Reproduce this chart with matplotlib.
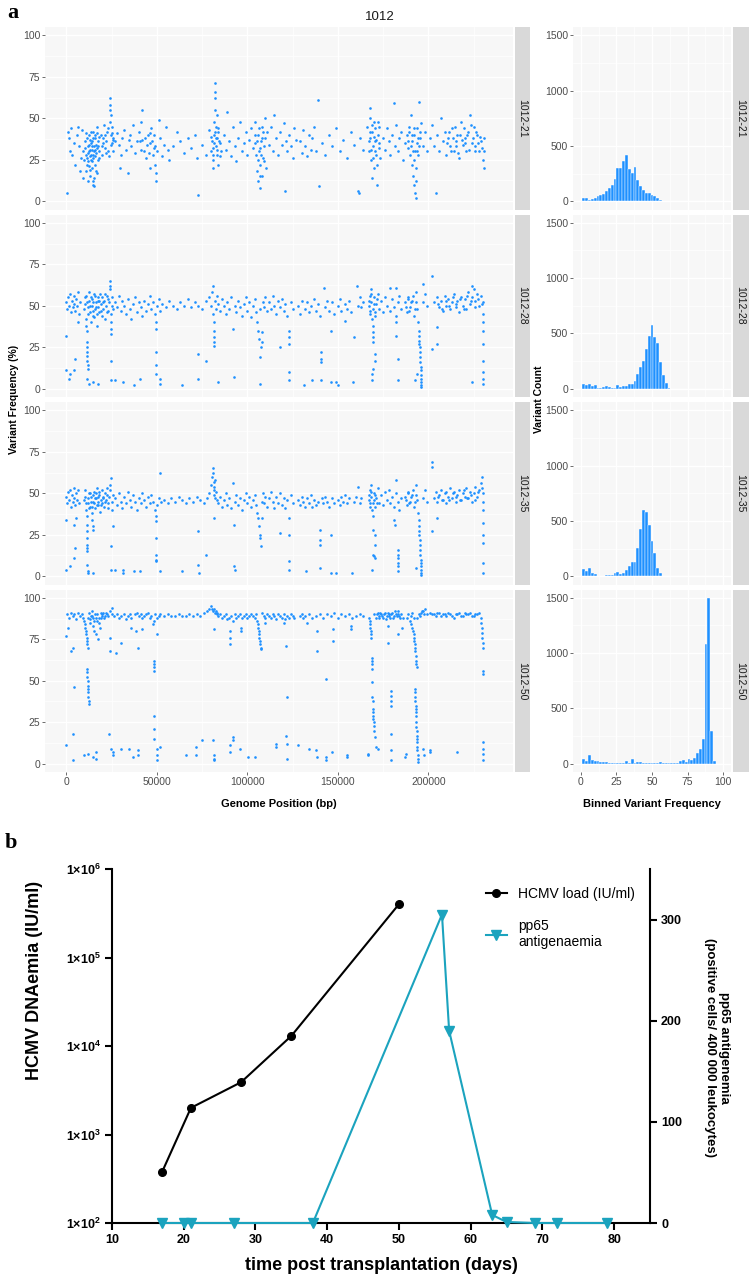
import numpy as np
import matplotlib
matplotlib.use('Agg')
import matplotlib.pyplot as plt
from matplotlib.ticker import NullLocator, FixedLocator
from matplotlib.lines import Line2D

# ---- panel a data: (genome position in kb, variant frequency %)
pts_21 = [(0.5,5),(1,42),(1.5,38),(2,30),(2.5,44),(3,28),(4,35),(5,22),(6,40),(6.5,45),(7,33),(7.5,18),(8,26),(8.5,43),(9,14),(9.5,30),
    (10,25),(10.5,32),(11,18),(11,28),(11.5,38),(12,12),(12,24),(12.5,30),(12.5,40),(13,15),(13,27),(13.5,35),(14,20),(14,31),(14.5,42),
    (15,10),(15,26),(15.5,33),(16,22),(16,38),(16.5,29),(17,45),(17,17),(17.5,36),(18,30),(18,26),(14.5,12),(15.5,9),(13.5,28),(12.8,34),
    (11.8,33),(12.2,29),(13.2,31),(14.2,36),(15.2,30),(16.2,34),(13.8,25),(14.8,28),(15.8,40),(16.8,32),
    (10.2,36),(10.8,41),(11.3,22),(11.6,26),(12.4,21),(12.9,37),(13.3,19),(13.7,42),(14.1,24),(14.4,33),(14.9,38),(15.3,14),(15.7,27),
    (16.1,31),(16.4,18),(16.9,41),(17.3,25),(17.8,33),(18.3,39),
    (19,40),(19.5,33),(20,28),(20.5,38),(21,46),(21.5,32),(22,36),(22.5,42),(23,30),(23.5,27),(24,48),(24,55),(24.2,62),(24.3,58),(24.5,40),
    (24.8,52),(25,35),(25.5,45),(26,30),(26,38),(20.2,35),(21.2,40),(22.2,29),(23.2,44),(24.6,34),(25.2,41),(25.8,37),
    (27,36),(28,41),(29,34),(29.5,20),(30,28),(31,38),(32,43),(33,31),(34,17),(34.5,37),(35,40),(36,33),(37,46),(38,29),(39,36),(40,42),
    (41,48),(42,55),(42,37),(43,30),(44,26),(45,40),(46,35),(46.5,20),(47,44),(48,28),(48.5,32),(49,22),(49.5,12),(49.8,17),(50,30),
    (51,49),(52,38),(53,27),(54,34),(55,45),(56,31),(57,25),
    (40.5,36),(41.5,31),(43.5,38),(44.5,34),(45.5,29),(46.2,41),(47.5,36),(48.2,40),(49.2,33),
    (59,33),(61,42),(63,36),(65,29),(67,38),(69,32),(71,40),(72,26),(73,4),(75,34),(77,28),
    (79,43),(80,30),(80.5,36),(81,20),(81,25),(81.5,40),(81.5,48),(82,55),(82,62),(82.2,66),(82.3,71),(82.5,33),(82.8,45),(83,28),(83,52),
    (83.5,38),(84,22),(84,42),(85,35),(85.5,30),
    (80.2,39),(80.8,28),(81.2,32),(81.8,35),(82.1,42),(82.6,38),(83.2,31),(83.7,44),(84.3,36),(84.7,27),
    (87,40),(88,31),(89,54),(90,36),(91,27),(92,45),(93,33),(94,24),(95,38),(96,48),(97,30),(98,35),(99,42),(100,28),(101,37),(102,44),(103,32),
    (104,35),(104.5,48),(105,28),(105.5,18),(106,40),(106,12),(106.5,30),(107,22),(107,8),(107.5,36),(108,15),(108,45),(108.5,26),(109,33),
    (109.5,50),(110,38),(110.5,20),(111,42),
    (104.2,40),(105.2,36),(105.8,25),(106.3,44),(106.8,32),(107.2,15),(107.8,28),(108.3,38),(108.8,42),(109.3,24),
    (112,34),(113,45),(114,30),(115,52),(116,38),(117,28),(118,42),(119,34),(120,47),(121,6),(121.5,36),(122,30),(123,40),(124,33),(125,26),
    (126,44),(127,37),
    (129,36),(130,29),(131,43),(132,33),(133,27),(134,40),(135,31),(136,38),(137,45),(138,30),(139,61),(139.5,9),(141,35),(143,28),(145,40),
    (147,33),(149,44),(151,30),(153,37),(155,26),(157,42),(159,34),(161,6),(161.5,5),(162,38),(164,31),
    (166,45),(167,30),(167.5,50),(168,56),(168,38),(168.5,25),(169,42),(169,14),(169.5,33),(170,20),(170,48),(170.5,36),(171,28),(171.5,10),
    (172,40),(172.5,32),(173,45),(173.5,26),
    (167.2,36),(167.8,42),(168.3,31),(168.8,46),(169.3,26),(169.8,39),(170.3,44),(170.8,30),(171.2,37),(171.8,22),(172.2,48),(172.8,35),
    (175,38),(176,31),(177,44),(178,36),(179,28),(180,40),(181,59),(181.5,33),(182,46),(183,30),(184,38),(185,42),(186,25),(187,35),
    (188,40),(189,32),(189.5,45),(190,28),(190.5,52),(191,36),(191,22),(191.5,15),(192,40),(192,10),(192.5,30),(192.5,5),(193,2),(193,20),
    (193.5,35),(194,44),(194.5,28),(195,60),(195.5,38),(196,47),(197,33),(198,42),(199,30),
    (188.5,36),(189.2,42),(190.2,33),(190.8,40),(191.3,30),(191.8,44),(192.3,25),(193.2,12),(193.8,30),(194.2,38),(194.8,33),(195.2,42),
    (201,38),(202,46),(203,33),(204,5),(205,40),(206,30),(207,50),(208,36),(209,42),(210,28),(211,38),(212,33),(213,44),(214,30),(215,36),
    (216,40),(217,26),(218,48),(219,34),(220,38),(221,30),(222,42),(223,52),(224,35),(225,45),(226,33),(227,40),(228,30),(229,36),(230,25),
    (230.5,20),(231,38),(231,30),
    (210.5,35),(211.5,42),(212.5,30),(213.5,38),(214.5,45),(215.5,33),(216.5,29),(217.5,40),(218.5,37),(219.5,44),(220.5,35),(221.5,40),
    (222.5,31),(223.5,46),(224.5,38),(225.5,30),(226.5,42),(227.5,35),(228.5,39),(229.5,32)]

pts_28 = [(0,52),(0.5,48),(1,55),(1.5,50),(2,57),(2.5,46),(3,53),(3.5,49),(4,56),(4.5,51),(5,47),(5.5,54),(6,50),(6.5,58),(7,45),(7.5,52),
    (0,32),(0,11),(2,9),(4.5,11),(4.8,18),(1.7,6),(6.5,40),
    (10,48),(10.5,55),(10.8,42),(11,38),(11.2,35),(11.4,52),(11.5,28),(11.5,25),(11.6,22),(11.6,20),(11.7,17),(11.8,14),(11.8,12),(11.2,6),
    (12.8,3),(14.6,4),(17.4,3),(12,45),(12.5,58),(13,50),(13.5,40),(14,54),(14.5,47),(15,52),(15.5,43),(16,56),(16.5,49),(17,38),(17.5,53),
    (18,46),(18.5,57),(19,51),(19.5,44),(20,55),(20.5,48),(21,53),(21.5,42),(22,50),(22.5,56),(23,47),(23.5,52),
    (10.2,51),(11,56),(12.2,49),(12.8,53),(13.3,46),(13.8,55),(14.3,50),(14.8,44),(15.3,57),(15.8,48),(16.3,52),(16.8,45),(17.3,55),
    (17.8,49),(18.3,53),(19.3,47),(20.3,52),(21.3,57),(22.3,46),(23.3,54),
    (24,60),(24.2,65),(24.3,62),(24.5,45),(24.6,40),(24.7,36),(24.8,33),(24.5,17),(24.8,5),(26.7,5),(25,50),(25.5,55),(26,48),
    (27,52),(28,49),(29,56),(30,47),(31,53),(31.3,4),(32,50),(33,45),(34,54),(35,48),(36,42),(37,51),(37.4,2),(38,55),(39,46),(40,52),
    (40.6,6),(41,49),(42,44),(43,53),(44,47),(45,51),(46,56),(47,48),
    (48,52),(49,45),(49.5,40),(49.8,36),(49.8,22),(49.8,14),(49.8,9),(50,50),(51,54),(51.7,6),(51.7,3),(52,47),
    (53,51),(55,49),(57,53),(59,50),(61,48),(63,52),(64.1,2),(65,50),(67,54),(69,49),(71,52),(73,21),(73,6),(73,50),(75,48),(77,53),(77.3,17),
    (79,55),(80,50),(80.5,58),(81,62),(81.2,45),(81.4,40),(81.5,35),(81.6,31),(81.7,28),(81.8,26),(82,53),(82.5,48),(83,56),(83.8,4),(84,51),
    (85,47),(86,54),(87,50),(88,45),(89,52),(90,48),(91,55),(92,36),(92.5,7),(93,50),(94,46),(95,53),(96,49),(97,44),(98,51),(99,55),
    (100,47),(101,52),(102,43),(103,50),
    (104,54),(105,46),(105.5,40),(106,35),(106.5,30),(106.8,19),(106.8,3),(107,48),(107.5,25),(108,34),(108.2,28),(108.5,52),
    (109,49),(110,55),(111,47),(112,52),(113,48),(114,56),(115,50),(116,45),(117,53),(118,49),(118.1,25),(119,54),(120,47),(121,51),
    (122,44),(123,35),(123,31),(123,27),(123,10),(123,5),(124,52),(125,48),
    (128,50),(129,45),(130,53),(131.4,2),(132,48),(133,52),(134,46),(135,50),(136,5),(137,54),(138,47),(139,51),(140,44),(140.7,22),
    (140.7,18),(140.7,16),(140.7,5),(142.2,61),(143,49),(144,53),(145,47),(146.2,35),(146.2,4),(147,52),(148,45),(149,4),(150,2),(150,50),
    (151,54),(152,47),(153.7,41),(154,51),(155,48),(156,53),(157,46),(158.3,4),(159.2,31),(160.7,62),(161,50),(162,55),(163,49),(164,52),
    (167,50),(167.5,56),(168,45),(168.5,60),(168.5,52),(169,42),(169.4,38),(169.4,34),(169.4,31),(169.4,28),(170.3,21),(170.3,17),
    (169.4,12),(169,9),(169,5),(169.5,48),(170,55),(170.5,44),(171,51),
    (167.3,53),(167.8,47),(168.2,57),(169.8,51),(170.8,46),(171.5,54),
    (172,57),(173,48),(174,53),(175,46),(176,55),(177,50),(178.7,61),(179,47),(180,54),(181,49),(182,44),(182.4,61),(182.4,40),(182.4,32),
    (183.3,18),(183.3,5),(183,52),(184,56),(185,48),
    (187,52),(188,46),(189,55),(190,49),(191,53),(192,44),(193,58),(194,48),(194.4,40),(194.6,35),(194.8,32),(195,29),(195,27),(195.2,25),
    (195.4,22),(195.5,19),(195.6,16),(195.7,13),(195.8,11),(195.9,8),(196,6),(196,4),(196,2),(196,1),(193.5,9),(192.5,5),(197.2,63),
    (197,52),(198,57),(199,50),(201.8,68),(201.8,24),(204.6,37),(205,27),
    (187.5,49),(188.5,54),(189.5,47),(190.5,52),(191.5,56),(192.5,48),(193.2,52),
    (203,52),(205,55),(206,49),(207,53),(208,47),(209,56),(210,50),(211,54),(212,48),(213,52),(214,57),(215,49),(216,53),(217,46),(218,55),
    (219,50),(220,54),(221,48),(222,58),(223,51),(224.1,62),(224.1,4),(224,55),(225,60),(226,53),(227,57),(228,50),(229,56),(230,52),
    (205.5,51),(207.5,48),(209.5,53),(211.5,50),(213.5,55),(215.5,51),(217.5,54),(219.5,48),(221.5,56),(223.5,53),(225.5,49),(227.5,54),
    (229.5,51),
    (230.3,45),(230.3,40),(230.3,35),(230.3,27),(230.3,17),(230.3,10),(230.3,6),(230.3,3)]

pts_35 = [(0,48),(0.5,44),(1,51),(1.5,46),(2,52),(2.5,42),(3,49),(3.5,45),(4,53),(4.5,47),(5,43),(5.5,50),(6,46),(6.5,52),(7,44),
    (0,34),(0,4),(2,6),(4.5,11),(4.8,17),(4.5,31),(5.3,35),
    (10,46),(10.5,52),(11,40),(11.2,36),(11.3,31),(11.4,27),(11.5,23),(11.5,19),(11.6,17),(11.6,15),(11.7,7),(11.8,3),(11.8,2),(12,44),
    (12.5,50),(13,42),(13.5,48),(14,38),(14.2,34),(14.5,30),(14.6,28),(14.6,2),(15,45),(15.5,51),(16,41),(16.5,47),(17,53),(17.5,43),
    (18,49),(18.5,39),(19,46),(19.5,52),(20,44),(20.5,48),(21,42),(21.5,50),(22,46),(22.5,53),(23,41),(23.5,48),
    (10.2,48),(11,44),(12.2,47),(12.8,41),(13.3,50),(13.8,45),(14.3,42),(14.8,49),(15.3,44),(15.8,47),(16.3,50),(16.8,43),(17.3,48),
    (17.8,45),(18.3,51),(19.3,43),(20.3,47),(21.3,45),(22.3,49),(23.3,44),
    (24,55),(24.5,59),(24.2,52),(24.5,18),(24.8,4),(26.7,4),(25,45),(25.5,40),(26,30),(26,49),
    (27,47),(28,43),(29,50),(30,45),(31,41),(31.3,4),(31.3,2),(32,48),(33,44),(34,51),(35,46),(36,42),(37,49),(37.4,3),(38,45),(39,40),
    (40,47),(40.6,3),(41,44),(42,50),(43,46),(44,42),(45,48),(46,44),(47,49),
    (48,45),(49,40),(49.5,36),(49.8,33),(49.8,23),(49.8,13),(49.8,10),(49.8,9),(50,43),(51,47),(51.7,3),(52,62),(52.5,45),
    (54,46),(56,44),(58,47),(60,45),(62,48),(64,46),(64.1,3),(66,44),(68,47),(70,45),(72,48),(73,27),(73,7),(73.5,2),(74,46),(76,44),
    (77.3,13),(78,47),
    (79,50),(80,55),(80.5,60),(81,65),(81.2,62),(81.4,57),(81.5,52),(81.6,49),(81.8,54),(82,58),(82.2,47),(82.5,51),(81.4,35),(83,46),(84,44),
    (85,48),(86,42),(87,46),(88,50),(89,43),(90,47),(91,41),(92,56),(92.5,31),(92.5,6),(93,4),(93,45),(94,49),(95,43),(96,47),(97,40),
    (98,46),(99,50),(100,44),(101,48),(102,42),(103,46),
    (104,49),(105,43),(105.5,38),(106,35),(106.5,30),(106.8,25),(107,23),(107.5,18),(108,35),(108.2,45),(108.5,50),
    (109,44),(110,48),(111,42),(112,47),(113,51),(114,45),(115,41),(116,48),(117,44),(118,50),(118.1,26),(119,43),(120,47),(121,41),
    (122,46),(123,35),(123,25),(123,9),(123,4),(124,49),(125,44),
    (128,46),(129,43),(130,48),(131,45),(132,42),(132.5,3),(133,47),(134,44),(135,49),(136,42),(137,46),(138,43),(139,45),(140,28),
    (140,22),(140,19),(140,5),(141,47),(142,44),(143,48),(144,45),(145,42),(146,25),(146,2),(147,47),(148,44),(149,2),(150,46),(151,43),
    (152,48),(153,45),(154,49),(155,44),(156,47),(158,2),(159,45),(160,48),(161,54),(162,44),(163,47),
    (167,46),(167.5,52),(168,42),(168.5,55),(168.5,48),(169,40),(169.3,36),(169.4,28),(170.3,25),(170.3,19),(169.4,13),(170,12),
    (170.5,11),(169,4),(169.5,44),(170,50),(170.5,42),(171,47),
    (167.3,49),(167.8,44),(168.2,51),(169.8,46),(170.8,49),(171.5,44),
    (172,53),(173,44),(174,49),(175,43),(176,51),(177,46),(178,52),(179,44),(180,48),(181,42),(181,34),(181.5,31),(182,50),(182.4,58),
    (183,16),(183,13),(183,11),(183,8),(183,6),(183,3),(183.5,45),(184,40),(185,47),
    (187,48),(188,43),(189,51),(190,45),(191,49),(192,42),(193,55),(194,46),(194.4,38),(194.6,34),(194.8,30),(195,27),(195,25),(195.2,22),
    (195.4,19),(195.5,16),(195.6,13),(195.7,10),(195.8,8),(195.9,6),(196,4),(196,2),(196,1),(193,5),(197,47),(198,52),(199,45),
    (201.8,69),(201.8,66),(201.8,27),(204.6,35),
    (187.5,46),(188.5,50),(189.5,44),(190.5,48),(191.5,52),(192.5,45),(193.2,49),
    (203,47),(204,51),(205,45),(206,49),(207,52),(208,46),(209,50),(210,44),(211,48),(212,53),(213,47),(214,51),(215,45),(216,49),(217,52),
    (218,46),(219,50),(220,48),(221,53),(222,47),(223,51),(224,45),(225,50),(226,54),(227,48),(228,52),(229,56),(229.5,60),(230,50),
    (205.5,48),(207.5,46),(209.5,51),(211.5,46),(213.5,50),(215.5,48),(217.5,46),(219.5,52),(221.5,47),(223.5,49),(225.5,46),(227.5,51),
    (229.5,53),
    (230.3,45),(230.3,40),(230.3,32),(230.3,25),(230.3,20),(230.3,8),(230.3,2)]

pts_50 = [(0.5,90),(1.5,88),(2.5,91),(3.5,89),(4.5,90),(5.5,87),(6.5,91),(7.5,89),(8.5,90),(9.5,88),
    (10,86),(10.3,84),(10.5,82),(10.8,80),(11,78),(11.2,76),(11.4,74),(11.6,72),(11.8,70),(11.5,57),(11.6,55),(11.7,52),(11.8,50),(11.9,47),
    (12,45),(12.1,43),(12.2,40),(12.3,38),(12.4,36),(12,88),(12.5,91),(13,85),(13.5,89),(14,92),(14.5,83),(15,88),(15.5,80),(16,90),
    (16.5,78),(17,86),(17.5,75),(18,88),(18.5,82),(19,91),(19.5,89),(20,90),(21,88),(22,91),(23,89),(24,92),(25,94),(25.5,90),(26.5,89),
    (13.2,87),(14.2,89),(15.2,86),(16.2,88),(17.2,90),(18.2,85),(19.2,88),(20.5,91),(21.5,89),(22.5,90),
    (28,90),(29,88),(30,89),(32,90),(33,87),(34,89),(35,90),(36,88),(38,90),(39,91),(40,89),(41,90),(42,88),(43,89),(44,90),(45,91),
    (46,88),(47,89),(48,84),(48.5,86),(49,90),(50,88),(51,89),(52,90),(54,89),(56,90),(58,89),(60,89),(62,90),(64,89),(66,89),(68,90),
    (70,89),(72,90),(74,89),(76,91),(78,92),(79,93),(80,95),(80.5,93),(81,92),(82,91),(83,90),(84,89),(85,90),(86,88),(87,89),(88,90),
    (81.5,93),(82.5,92),(83.5,91),
    (89,87),(90,88),(91,89),(92,86),(93,90),(94,88),(95,89),(96,90),(97,88),(98,89),(99,90),(100,88),(101,89),(102,90),(103,89),(104,88),
    (105,90),(105.5,86),(105.8,84),(106,82),(106.2,80),(106.5,78),(106.7,76),(106.9,74),(107.1,72),(107.3,70),(107.5,69),(108,91),
    (109,89),(110,88),(111,90),(112,89),(113,88),(114,90),(115,89),(116,87),(117,90),(118,89),(119,88),(120,90),(121,87),(122,89),
    (123,88),(124,90),(125,89),(126,88),
    (129,89),(130,90),(131,88),(132,89),(134,90),(136,88),(138,89),(140,90),(142,88),(144,90),(146,89),(148,91),(150,88),(152,90),
    (154,89),(156,90),(158,88),(160,89),(162,90),(164,89),
    (167,88),(167.5,86),(167.8,84),(168,82),(168.2,80),(168.4,78),(168.5,76),(168.6,64),(168.7,62),(168.8,60),(168.9,57),(169,49),
    (169.1,40),(169.2,38),(169.3,33),(169.4,31),(169.5,29),(169.6,27),(169.7,25),(169.8,23),(170,20),(170.5,16),(170,90),(171,88),
    (172,91),(173,89),(174,90),(175,88),(176,91),(177,89),(178,90),(179,88),(180,91),(181,89),(182,90),(183,92),(184,89),(185,90),(186,88),
    (171.5,90),(172.5,88),(173.5,91),(174.5,89),(175.5,90),(176.5,87),(177.5,91),(178.5,89),(179.5,90),(180.5,88),(181.5,92),(182.5,89),
    (183.5,90),(184.5,88),
    (188,88),(189,90),(190,86),(190.5,84),(191,82),(191.5,80),(191.8,78),(192,76),(192.2,74),(192.4,72),(192.6,70),(192.8,68),(193,65),
    (193.2,62),(193.4,60),(193.6,58),(192.5,45),(192.6,43),(192.7,40),(192.8,38),(192.9,35),(193,33),(193.1,31),(193.2,29),(193.3,25),
    (193.4,22),(193.5,20),(193.6,17),(193.7,15),(193.8,13),(193.9,10),(194,8),(194.1,5),(194.2,3),(194.3,1),(194,88),(195,90),(196,91),
    (197,92),(198,93),(199,90),(190.2,89),(191.2,91),(192.2,88),(195.5,89),(196.5,92),(197.5,90),
    (201,91),(202,90),(204,89),(206,91),(208,90),(210,89),(212,90),(214,88),(216,90),(218,89),(220,91),(222,90),(224,89),(226,90),
    (228,91),(229,88),(229.2,85),(229.4,82),(229.6,79),(229.8,76),(230,73),(230.2,70),(230,56),(230.1,54),
    (203,90),(205,91),(207,89),(209,90),(211,91),(213,89),(215,90),(217,91),(219,89),(221,90),(223,91),(225,89),(227,90),
    (0,77),(0,11),(1.1,82),(2.6,68),(3.5,70),(4.4,46),(3.5,18),(3.9,2),(10,5),(11.9,6),(14.6,4),(16.5,7),(16.5,3),(23.5,18),(23.9,76),
    (23.9,68),(24.5,9),(25.8,7),(25.8,5),(27.2,67),(30.4,73),(30.4,9),(34.7,9),(36,82),(36.9,4),(38.4,80),(39.7,70),(39.7,8),(39.7,5),
    (42.1,81),(48.6,62),(48.6,60),(48.6,58),(48.6,56),(48.6,29),(48.6,21),(48.6,15),(49.9,9),(49.9,2),(49.9,5),(49.9,78),(51.7,10),
    (66,5),(71.7,10),(71.7,5),(75,14),(80.8,14),(81.4,5),(81.4,3),(81.4,2),(81.4,81),(90.3,80),(90.6,76),(90.6,72),(90.6,11),(90.6,7),
    (92.1,16),(92.1,14),(95.8,9),(96.5,82),(96.5,80),(100.3,4),(104.5,4),(110,85),(115.6,10),(115.6,12),(120.3,85),(121.2,71),
    (121.8,40),(121.2,17),(121.8,12),(121.8,3),(128.2,11),(132.9,85),(133.8,9),(137.9,8),(138.4,4),(138.4,80),(138.4,68),(143.4,51),
    (143.4,4),(143.4,2),(146.8,7),(147.5,74),(147.5,81),(155.1,4),(155.1,5),(157,83),(157,81),(166.6,6),(166.6,5),(171.3,10),(172.3,9),
    (177.7,83),(177.7,73),(179.6,44),(179.6,41),(179.6,38),(179.6,35),(179.6,18),(179.6,8),(179.6,2),(183,78),(185.2,82),(187,4),
    (187.5,6),(197.2,9),(197.8,5),(200.9,7),(200.9,8),(215.8,7),(230,9),(230,6),(230,2),(230,13)]

# histogram counts, bins of width 2 centred on 0, 2, ..., 100
bin_centers = list(range(0, 101, 2))
cnt_21 = [0,30,25,15,20,30,45,60,65,90,120,150,200,300,300,360,415,295,255,310,195,140,100,75,75,60,45,25,10,5,3] + [0]*20
cnt_28 = [0,40,35,40,25,30,5,5,15,25,15,8,3,30,15,20,25,40,40,70,130,200,255,355,475,580,470,410,245,120,50,8] + [0]*19
cnt_35 = [0,65,45,70,25,20,5,3,3,15,15,12,25,35,20,30,60,90,130,130,255,430,600,580,460,315,210,75,25,5,3,3] + [0]*19
cnt_50 = [0,40,25,80,30,25,20,15,12,15,8,5,5,3,5,3,20,10,45,3,12,12,10,2,5,2,8,3,15,5,2,2,5,3,3,20,30,15,40,35,55,100,130,220,
          1080,1500,300,25,0,0,0]

samples = ['1012-21', '1012-28', '1012-35', '1012-50']
points = [pts_21, pts_28, pts_35, pts_50]
counts = [cnt_21, cnt_28, cnt_35, cnt_50]

# ---- panel b data
days_load = [17, 21, 28, 35, 50]
hcmv_load = [380, 2000, 3900, 13000, 400000]
days_pp65 = [17, 20, 21, 27, 38, 56, 57, 63, 65, 69, 72, 79]
pp65 = [0, 0, 0, 0, 0, 305, 190, 8, 1, 0, 0, 0]

plt.rcParams['font.family'] = ['Liberation Sans', 'DejaVu Sans']
plt.rcParams['mathtext.fontset'] = 'custom'
plt.rcParams['mathtext.bf'] = 'Liberation Sans:bold'
plt.rcParams['mathtext.rm'] = 'Liberation Sans'

BLUE = '#1E90FF'
CYAN = '#1BA3BE'
W, H = 749, 1275
fig = plt.figure(figsize=(W / 100, H / 100), dpi=100)


def px_axes(x0, y0, x1, y1):
    return fig.add_axes([x0 / W, 1 - y1 / H, (x1 - x0) / W, (y1 - y0) / H])


def gg_style(ax):
    ax.set_facecolor('#F7F7F7')
    for s in ax.spines.values():
        s.set_visible(False)
    ax.grid(which='major', color='white', lw=0.9)
    ax.grid(which='minor', color='white', lw=0.45)
    ax.set_axisbelow(True)
    ax.tick_params(which='major', labelsize=7.5, labelcolor='#4D4D4D', color='#333333',
                   length=2, width=0.5, pad=1.5)
    ax.tick_params(which='minor', length=0)


def strip(x0, x1, y0, y1, label):
    sa = px_axes(x0, y0, x1, y1)
    sa.set_facecolor('#D9D9D9')
    sa.set_xticks([]); sa.set_yticks([])
    for s in sa.spines.values():
        s.set_visible(False)
    fig.text((x0 + 7.5) / W, 1 - (y0 + y1) / 2 / H, label, rotation=-90, ha='center', va='center',
             fontsize=7.5, color='#1A1A1A')


row_top = [27, 214.5, 402, 589.5]
row_h = 182.5

for i in range(4):
    y0 = row_top[i]
    y1 = y0 + row_h
    # scatter of variant frequency along the genome
    ax = px_axes(45, y0, 513, y1)
    gg_style(ax)
    pos, freq = zip(*points[i])
    ax.scatter(np.array(pos) * 1000, freq, s=3.6, c=BLUE, linewidths=0)
    ax.set_xlim(-11750, 246750)
    ax.set_ylim(-5, 105)
    ax.set_yticks([0, 25, 50, 75, 100])
    ax.yaxis.set_minor_locator(FixedLocator([12.5, 37.5, 62.5, 87.5]))
    ax.set_xticks([0, 50000, 100000, 150000, 200000])
    ax.xaxis.set_minor_locator(FixedLocator([25000, 75000, 125000, 175000, 225000]))
    if i < 3:
        ax.tick_params(axis='x', labelbottom=False, length=0)
    else:
        ax.set_xticklabels(['0', '50000', '100000', '150000', '200000'])
    strip(515, 530, y0, y1, samples[i])

    # histogram of binned variant frequency
    axh = px_axes(573, y0, 731, y1)
    gg_style(axh)
    axh.bar(bin_centers, counts[i], width=2, color=BLUE, edgecolor='white', linewidth=0.3)
    axh.set_xlim(-5.6, 105.6)
    axh.set_ylim(-75, 1575)
    axh.set_yticks([0, 500, 1000, 1500])
    axh.yaxis.set_minor_locator(FixedLocator([250, 750, 1250]))
    axh.set_xticks([0, 25, 50, 75, 100])
    axh.xaxis.set_minor_locator(FixedLocator([12.5, 37.5, 62.5, 87.5]))
    if i < 3:
        axh.tick_params(axis='x', labelbottom=False, length=0)
    strip(733, 760, y0, y1, samples[i])

fig.text(380 / W, 1 - 17 / H, '1012', ha='center', va='center', fontsize=9.5, color='#1A1A1A')
fig.text(14 / W, 1 - 399 / H, 'Variant Frequency (%)', rotation=90, ha='center', va='center',
         fontsize=7.5, fontweight='bold')
fig.text(279 / W, 1 - 804 / H, 'Genome Position (bp)', ha='center', va='center', fontsize=8, fontweight='bold')
fig.text(539 / W, 1 - 399 / H, 'Variant Count', rotation=90, ha='center', va='center',
         fontsize=7.5, fontweight='bold')
fig.text(652 / W, 1 - 804 / H, 'Binned Variant Frequency', ha='center', va='center', fontsize=8,
         fontweight='bold')
fig.text(13 / W, 1 - 13 / H, 'a', family='Liberation Serif', fontweight='bold', fontsize=16,
         ha='center', va='center')
fig.text(11 / W, 1 - 843 / H, 'b', family='Liberation Serif', fontweight='bold', fontsize=16,
         ha='center', va='center')

# ---- panel b: viral load and antigenaemia over time
axb = px_axes(112, 869, 650, 1223)
axb.plot(days_load, hcmv_load, color='black', lw=1.5, marker='o', ms=5.5, zorder=3, clip_on=False)
axb.set_yscale('log')
axb.set_ylim(1e2, 1e6)
axb.set_xlim(10, 85)
axb.set_yticks([1e2, 1e3, 1e4, 1e5, 1e6])
axb.set_yticklabels([r'$\mathbf{1{\times}10^{%d}}$' % k for k in range(2, 7)])
axb.yaxis.set_minor_locator(NullLocator())
axb.set_xticks(range(10, 81, 10))
axb.spines['top'].set_visible(False)
axb.spines['right'].set_visible(False)
for s in ['left', 'bottom']:
    axb.spines[s].set_linewidth(1.5)
axb.tick_params(labelsize=9, length=5, width=1.5, pad=3)
for lab in axb.get_xticklabels():
    lab.set_fontweight('bold')
axb.set_xlabel('time post transplantation (days)', fontsize=13, fontweight='bold', labelpad=8)
fig.text(35 / W, 1 - 980 / H, 'HCMV DNAemia (IU/ml)', rotation=90, ha='center', va='center',
         fontsize=13, fontweight='bold')

ax2 = axb.twinx()
ax2.plot(days_pp65, pp65, color=CYAN, lw=1.5, marker='v', ms=6.5, zorder=3, clip_on=False)
ax2.set_ylim(0, 350)
ax2.set_yticks([0, 100, 200, 300])
for s in ['top', 'left', 'bottom']:
    ax2.spines[s].set_visible(False)
ax2.spines['right'].set_linewidth(1.5)
ax2.tick_params(labelsize=9, length=5, width=1.5, pad=3)
for lab in ax2.get_yticklabels():
    lab.set_fontweight('bold')
fig.text(717 / W, 1 - 1048 / H, 'pp65 antigenemia\n(positive cells/ 400 000 leukocytes)', rotation=270,
         ha='center', va='center', multialignment='center', fontsize=9.5, fontweight='bold')

handles = [Line2D([], [], color='black', lw=1.5, marker='o', ms=5.5),
           Line2D([], [], color=CYAN, lw=1.5, marker='v', ms=6.5)]
ax2.legend(handles, ['HCMV load (IU/ml)', 'pp65\nantigenaemia'], loc='upper left',
           bbox_to_anchor=(0.672, 0.985), frameon=False, fontsize=10, handlelength=1.5,
           handletextpad=0.8, labelspacing=1.3)

fig.savefig('out.png', dpi=100)
